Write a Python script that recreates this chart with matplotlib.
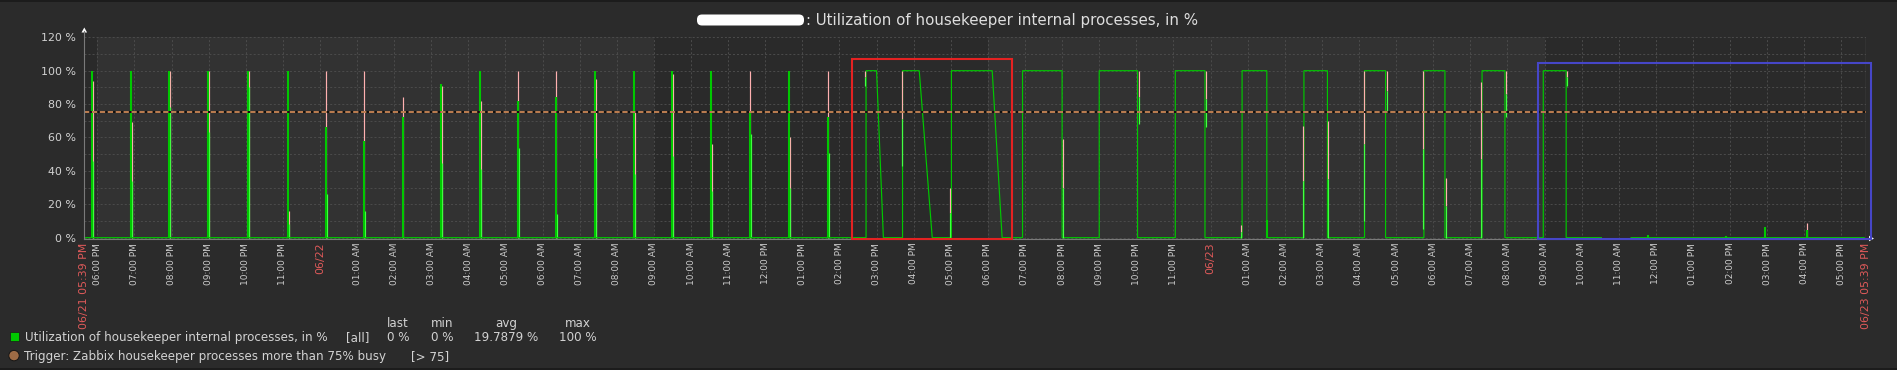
import matplotlib
matplotlib.use("Agg")
import matplotlib.pyplot as plt
import matplotlib.dates as mdates
from matplotlib.patches import Rectangle, Circle, FancyBboxPatch, Polygon
from matplotlib.lines import Line2D
from matplotlib.transforms import Affine2D
import numpy as np
import pandas as pd

plt.rcParams["lines.scale_dashes"] = False

W, H = 1897, 370

t_from = "06/21 17:39"
t_till = "06/23 17:39"
data_end = "06/23 17:37"

# short housekeeper runs: per spike the avg (green), max (pink) and min (lime) tops, in %
spike_time = ["06/21 17:51", "06/21 18:54", "06/21 19:56", "06/21 20:59", "06/21 22:03", "06/21 23:08",
              "06/22 00:09", "06/22 01:12", "06/22 02:14", "06/22 03:16", "06/22 04:19", "06/22 05:20",
              "06/22 06:22", "06/22 07:25", "06/22 08:27", "06/22 09:30", "06/22 10:33", "06/22 11:35",
              "06/22 12:39", "06/22 13:42", "06/23 01:32",
              "06/23 11:48", "06/23 13:54", "06/23 14:56", "06/23 16:04"]
spike_avg = [100, 100, 100, 100, 100, 100,
             66, 58, 72, 92, 100, 82,
             84, 100, 100, 100, 100, 75,
             100, 72, 10.6,
             1.6, 1, 6.4, 4.6]
spike_max = [94, 69, 100, 100, 100, 16,
             100, 100, 84, 91, 82, 100,
             100, 95, 76, 98, 56, 100,
             60, 100, 0,
             0, 0, 0, 8.8]
spike_min = [46, 34, 78, 63, 90, 8,
             26, 16, 0, 45, 41, 54,
             14, 48, 38, 49, 28, 62,
             30, 51, 0,
             0, 0, 0, 0]

# long runs: reaches 100 %, leaves 100 %, back at 0 %
run_start = ["06/22 14:43", "06/22 15:42", "06/22 17:01", "06/22 18:56", "06/22 21:00", "06/22 23:03",
             "06/23 00:51", "06/23 02:31", "06/23 04:09", "06/23 05:45", "06/23 07:19", "06/23 08:58"]
run_stop = ["06/22 15:00", "06/22 16:09", "06/22 18:07", "06/22 20:00", "06/22 22:02", "06/22 23:51",
            "06/23 01:31", "06/23 03:09", "06/23 04:43", "06/23 06:19", "06/23 07:56", "06/23 09:35"]
run_zero = ["06/22 15:11", "06/22 16:30", "06/22 18:23", "06/22 20:00", "06/22 22:02", "06/22 23:51",
            "06/23 01:31", "06/23 03:09", "06/23 04:43", "06/23 06:19", "06/23 07:56", "06/23 09:35"]

# max / min traces at the run edges (side -1 = rising edge, +1 = falling edge)
edge_time = ["06/22 14:43", "06/22 15:42", "06/22 17:01", "06/22 20:00", "06/22 22:02", "06/22 23:51",
             "06/23 00:51", "06/23 02:31", "06/23 03:09", "06/23 04:09", "06/23 04:43", "06/23 05:45",
             "06/23 06:19", "06/23 07:19", "06/23 07:56", "06/23 09:35"]
edge_max = [100, 100, 30, 59, 100, 100, 7.6, 67, 70, 100, 100, 100, 36, 93, 100, 100]
edge_mid = [96, 71, 15, 30, 84, 83, 3.6, 34, 35, 56, 88, 53, 19, 47, 86, 96]
edge_min = [91, 43, 0, 0, 68, 66, 0, 0, 0, 10, 75, 5, 0, 0, 72, 91]
edge_side = [-1, -1, -1, 1, 1, 1, -1, -1, 1, -1, 1, -1, 1, -1, 1, 1]

no_data = ("06/23 10:32", "06/23 11:20")

work_from = ["06/21 17:39", "06/22 09:00", "06/23 09:00"]
work_till = ["06/21 18:00", "06/22 18:00", "06/23 17:39"]

threshold = 75
y_ticks = [0, 20, 40, 60, 80, 100, 120]

legend_cols = ["last", "min", "avg", "max"]
legend_vals = ["0 %", "0 %", "19.7879 %", "100 %"]

BG = "#2b2b2b"
NONWORK = "#323232"
WORK = "#2a2a2a"
GRID = "#4a4a4a"
GREEN = "#00c800"
LIME = "#44ff44"
PINK = "#ffb0b0"
TXT = "#d2d2d2"
RED = "#e05a5a"


def tm(s):
    return mdates.date2num(pd.to_datetime("2023/" + s, format="%Y/%m/%d %H:%M"))


def tms(lst):
    return np.array([tm(s) for s in lst])


fig = plt.figure(figsize=(W / 100, H / 100), dpi=100, facecolor=BG)
ax = fig.add_axes([84.3 / W, (H - 238.5) / H, (1865.5 - 84.3) / W, (238.5 - 37.3) / H])
ax.set_facecolor(NONWORK)
x0, x1 = tm(t_from), tm(t_till)
ax.set_xlim(x0, x1)
ax.set_ylim(-0.5, 120)
px = (x1 - x0) / (1865.5 - 84.3)

for a, b in zip(tms(work_from), tms(work_till)):
    ax.axvspan(a, b, color=WORK, lw=0, zorder=0.2)

# avg trace of the long runs
xs, ys = [x0], [0.0]
for a, b, c in zip(tms(run_start), tms(run_stop), tms(run_zero)):
    xs += [a, a, b, c]
    ys += [0, 100, 100, 0]
g0, g1 = tm(no_data[0]), tm(no_data[1])
xs += [g0, g0, g1, tm(data_end)]
ys += [0, np.nan, 0, 0]
ax.plot(xs, ys, color=GREEN, lw=0.85, zorder=4, solid_joinstyle="miter")

st = tms(spike_time)
s_avg = np.array(spike_avg, float)
s_max = np.array(spike_max, float)
s_min = np.array(spike_min, float)
pink_x = np.where(s_max > s_avg, st, st + px)
ax.vlines(pink_x, 0, s_max, color=PINK, lw=0.85, zorder=3)
ax.vlines(st + px, 0, s_min, color=LIME, lw=0.85, zorder=3.5)
ax.vlines(st, 0, s_avg, color=GREEN, lw=1.5, zorder=4)

et = tms(edge_time) + np.array(edge_side) * px
ax.vlines(et, edge_mid, edge_max, color=PINK, lw=0.85, zorder=5)
ax.vlines(et, edge_min, edge_mid, color=LIME, lw=0.85, zorder=5)

# trigger line
ax.axhline(threshold, color="#101010", lw=1.45, zorder=6)
ax.axhline(threshold, color="#b87b4f", lw=1.45, dashes=(3.8, 1.9), zorder=6.1)

# ticks and grid
hours = pd.date_range(pd.to_datetime("2023/06/21 18:00"), pd.to_datetime("2023/06/23 17:00"), freq="h")
tick_pos = [x0] + [mdates.date2num(h) for h in hours] + [x1]
tick_lab = [pd.to_datetime("2023/" + t_from).strftime("%m/%d %I:%M %p")]
tick_red = [True]
for h in hours:
    if h.hour == 0:
        tick_lab.append(h.strftime("%m/%d"))
        tick_red.append(True)
    else:
        tick_lab.append(h.strftime("%I:%M %p"))
        tick_red.append(False)
tick_lab.append(pd.to_datetime("2023/" + t_till).strftime("%m/%d %I:%M %p"))
tick_red.append(True)

ax.set_xticks(tick_pos, tick_lab, rotation=90)
ax.tick_params(axis="x", length=0, pad=3, labelsize=6.5, labelcolor="#cccccc")
for lab, red in zip(ax.get_xticklabels(), tick_red):
    if red:
        lab.set_color(RED)
        lab.set_fontsize(7.9)

ax.set_yticks(y_ticks, ["%d %%" % v for v in y_ticks])
ax.set_yticks(np.arange(10, 120, 20), minor=True)
ax.tick_params(axis="y", which="both", length=0, pad=6, labelsize=7.9, labelcolor=TXT)
ax.set_axisbelow(True)
ax.grid(True, which="both", color=GRID, lw=0.75, ls=(0, (1.45, 1.45)))
for sp in ax.spines.values():
    sp.set_visible(False)

# overlays drawn in pixel coordinates (from the top-left corner)
pix = Affine2D().scale(1 / W, -1 / H).translate(0, 1) + fig.transFigure

fig.add_artist(Line2D([84.3, 84.3], [238.5, 31], color="#7a7a7a", lw=0.8, transform=pix))
fig.add_artist(Line2D([84.3, 1870], [238.5, 238.5], color="#7a7a7a", lw=0.8, transform=pix))
fig.add_artist(Polygon([[81.5, 32.5], [87.1, 32.5], [84.3, 27.5]], closed=True, fc="white", ec="none", transform=pix))
fig.add_artist(Polygon([[1869, 235.7], [1869, 241.3], [1874, 238.5]], closed=True, fc="white", ec="none", transform=pix))

fig.add_artist(Rectangle((852, 59), 160.3, 179.7, fill=False, ec="#e42222", lw=1.5, transform=pix, zorder=10))
fig.add_artist(Rectangle((1537.7, 63), 333, 175.7, fill=False, ec="#4646c8", lw=1.5, transform=pix, zorder=10))

fig.add_artist(Rectangle((0, 0), W, 1.5, fc="#1c1c1c", ec="none", transform=pix))
fig.add_artist(Rectangle((0, 368.3), W, 1.7, fc="#1c1c1c", ec="none", transform=pix))

# title (host name blanked out)
fig.add_artist(FancyBboxPatch((697, 14.5), 107, 11, boxstyle="round,pad=0,rounding_size=5",
                              fc="white", ec="none", transform=pix))
fig.text(806, 25.3, ": Utilization of housekeeper internal processes, in %", transform=pix,
         fontsize=10.8, color="#dedede", ha="left", va="baseline")

# legend
col_x = [398, 442, 506, 578]
for cx, name, val in zip(col_x, legend_cols, legend_vals):
    fig.text(cx, 327.3, name, transform=pix, fontsize=8.6, color=TXT, ha="center", va="baseline")
    fig.text(cx, 340.7, val, transform=pix, fontsize=8.6, color=TXT, ha="center", va="baseline")
fig.add_artist(Rectangle((9.8, 331.8), 9.4, 9.6, fc=GREEN, ec="#1a1a1a", lw=0.5, transform=pix))
fig.text(25.4, 340.7, "Utilization of housekeeper internal processes, in %", transform=pix,
         fontsize=8.6, color=TXT, ha="left", va="baseline")
fig.text(346, 340.7, "[all]", transform=pix, fontsize=8.6, color=TXT, ha="left", va="baseline")
fig.add_artist(Circle((14, 355.6), 5.2, fc="#9e6b45", ec="#151515", lw=0.7, transform=pix))
fig.text(24.5, 360.2, "Trigger: Zabbix housekeeper processes more than 75% busy", transform=pix,
         fontsize=8.6, color=TXT, ha="left", va="baseline")
fig.text(410.7, 360.2, "[> 75]", transform=pix, fontsize=8.6, color=TXT, ha="left", va="baseline")

fig.savefig("out.png", dpi=100, facecolor=BG)
